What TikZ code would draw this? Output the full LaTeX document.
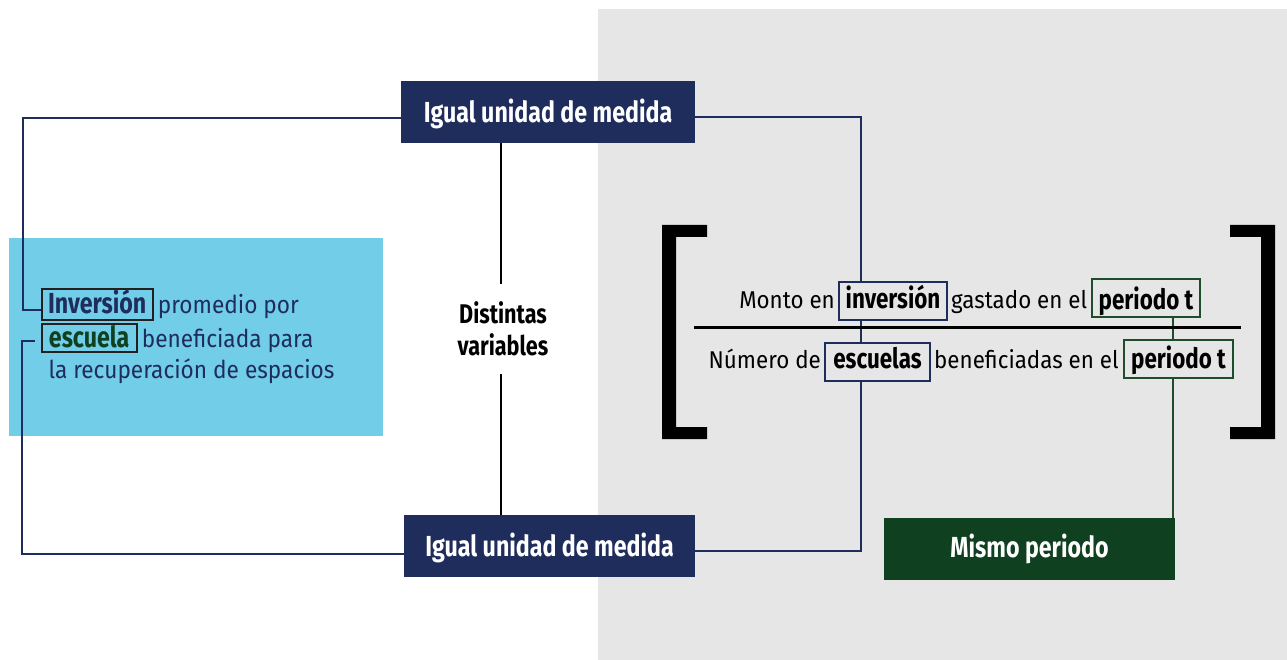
\documentclass[tikz,border=0pt]{standalone}
\usepackage{fontspec}
\setmainfont{Fira Sans}
\newfontfamily\cb{Fira Sans}[FakeStretch=0.8]
\newfontfamily\regnarrow{Fira Sans}[FakeStretch=0.92]
\usetikzlibrary{calc}
\definecolor{navy}{HTML}{1F2D5C}
\definecolor{fgreen}{HTML}{0F401F}
\definecolor{bgreen}{HTML}{1E4D2B}
\definecolor{graybg}{HTML}{E6E6E6}
\definecolor{lblue}{HTML}{71CDE8}
\definecolor{boxdark}{HTML}{231F20}
\tikzset{
  hdrbox/.style={fill=navy,text=white,font=\cb\bfseries\fontsize{29}{32}\selectfont,inner sep=0pt,minimum height=62pt},
  samebox/.style={fill=fgreen,text=white,font=\cb\bfseries\fontsize{29}{32}\selectfont,inner sep=0pt,minimum width=291pt,minimum height=62pt},
  fracbox/.style={fill=graybg,line width=2pt,inner sep=0pt,minimum height=38pt,text=black,font=\cb\bfseries\fontsize{28}{32}\selectfont},
  leftbox/.style={draw=boxdark,line width=2pt,inner sep=0pt,font=\cb\bfseries\fontsize{29}{32}\selectfont},
  plain/.style={inner sep=0pt,text=black,font=\regnarrow\fontsize{24.3}{28}\selectfont},
  lplain/.style={inner sep=0pt,text=navy,font=\regnarrow\fontsize{24.6}{28}\selectfont},
  navyline/.style={draw=navy,line width=2pt},
  greenline/.style={draw=bgreen,line width=2pt},
  blackline/.style={draw=black,line width=2.5pt}
}
\begin{document}
\begin{tikzpicture}[x=1pt,y=-1pt]
\useasboundingbox (0,0) rectangle (1287,660);
\fill[graybg] (598,9) rectangle (1287,660);
\fill[lblue] (9,238) rectangle (383,436);

% header boxes
\node[hdrbox,minimum width=294pt,text height=24pt,text depth=2pt] (top) at (548,112) {Igual unidad de medida};
\node[hdrbox,minimum width=291pt,text height=23.7pt,text depth=2.3pt] (bot) at (549.5,546) {Igual unidad de medida};
\node[samebox,text height=21.3pt,text depth=4.7pt] (same) at (1029.5,549) {Mismo periodo};

% distintas variables
\node[align=center,inner xsep=0pt,inner ysep=18pt,font=\cb\bfseries\fontsize{27}{32}\selectfont] (dv) at (503,329) {Distintas\\variables};

% coordinates for connector corners
\coordinate (r1) at (861,117);
\coordinate (r2) at (861,551);
\coordinate (g0) at (1173,0);
\coordinate (l1) at (23.3,118);
\coordinate (l1b) at (23.3,309.5);
\coordinate (l2) at (21.7,554);
\coordinate (l2b) at (21.7,341);
\coordinate (v) at (501,0);

% fraction boxes
\node[fracbox,draw=navy,minimum width=108pt,text height=20.3pt,text depth=5.7pt] (inv) at (893,301) {inversión};
\node[fracbox,draw=bgreen,minimum width=108pt,text height=24pt,text depth=2pt] (pt1) at (1146,298) {periodo t};
\node[fracbox,draw=navy,minimum width=105pt,text height=19.3pt,text depth=6.7pt] (esc) at (877.5,362) {escuelas};
\node[fracbox,draw=bgreen,minimum width=109pt,text height=22.3pt,text depth=3.7pt] (pt2) at (1178.5,359) {periodo t};

% left boxes
\node[leftbox,text=navy,minimum width=111pt,minimum height=30.7pt,text height=21.3pt,text depth=4.7pt] (inv2) at (97.2,304.7) {Inversión};
\node[leftbox,text=fgreen,minimum width=95pt,minimum height=28pt,text height=21.7pt,text depth=4.3pt] (esc2) at (89.2,338.3) {escuela};

% connectors
\draw[navyline] (top.east |- r1) -- (r1) -- (r1 |- inv.north);
\draw[navyline] (r1 |- inv.south) -- (r1 |- esc.north);
\draw[navyline] (r1 |- esc.south) -- (r2) -- (bot.east |- r2);
\draw[greenline] (g0 |- pt1.south) -- (g0 |- pt2.north);
\draw[greenline] (g0 |- pt2.south) -- (g0 |- same.north);
\draw[navyline] (top.west |- l1) -- (l1) -- (l1b) -- (inv2.west |- l1b);
\draw[navyline] (bot.west |- l2) -- (l2) -- (l2b) -- ([xshift=-6pt]esc2.west |- l2b);
\draw[blackline] (v |- top.south) -- (v |- dv.north);
\draw[blackline] (v |- dv.south) -- (v |- bot.north);

% fraction texts
\node[plain,anchor=base east] (m1) at ([xshift=-3pt]inv.west |- 0,308) {Monto en};
\node[plain,anchor=base west] (g1) at ([xshift=3pt]inv.east |- 0,308) {gastado en el};
\node[plain,anchor=base east] (n1) at ([xshift=-3pt]esc.west |- 0,368) {Número de};
\node[plain,anchor=base west] (b1) at ([xshift=3pt]esc.east |- 0,368) {beneficiadas en el};

% fraction bar
\coordinate (fb1) at (694,327.5);
\coordinate (fb2) at (1241,327.5);
\draw[black,line width=2.5pt] (fb1) -- (fb2);

% brackets
\fill[black] (662,225) -- (707,225) -- (707,237) -- (676,237) -- (676,427) -- (707,427) -- (707,439) -- (662,439) -- cycle;
\fill[black] (1275,225) -- (1230,225) -- (1230,237) -- (1261,237) -- (1261,427) -- (1230,427) -- (1230,439) -- (1275,439) -- cycle;

% left texts
\node[lplain,anchor=base west] (p1) at ([xshift=4pt]inv2.east |- 0,313) {promedio por};
\node[lplain,anchor=base west] (p2) at ([xshift=4pt]esc2.east |- 0,347) {beneficiada para};
\node[lplain,anchor=base west] (p3) at (48.3,378) {la recuperación de espacios};
\end{tikzpicture}
\end{document}
